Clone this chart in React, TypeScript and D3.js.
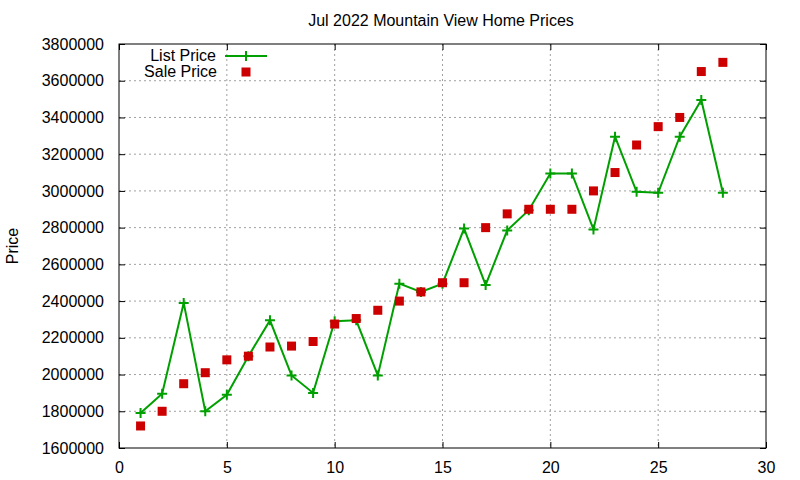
import { useEffect, useRef } from 'react'
import * as d3 from 'd3'

const days = [1, 2, 3, 4, 5, 6, 7, 8, 9, 10, 11, 12, 13, 14, 15, 16, 17, 18, 19, 20, 21, 22, 23, 24, 25, 26, 27, 28]
const listPrice = [
  1790000, 1895000, 2390000, 1800000, 1890000, 2100000, 2295000, 1995000, 1900000, 2290000,
  2295000, 1995000, 2495000, 2450000, 2495000, 2795000, 2488000, 2785000, 2895000, 3095000,
  3095000, 2790000, 3295000, 2995000, 2990000, 3295000, 3495000, 2990000,
]
const salePrice = [
  1720000, 1800000, 1950000, 2010000, 2080000, 2100000, 2150000, 2155000, 2180000, 2275000,
  2305000, 2350000, 2400000, 2450000, 2500000, 2500000, 2800000, 2875000, 2900000, 2900000,
  2900000, 3000000, 3100000, 3250000, 3350000, 3400000, 3650000, 3700000,
]
const xTicks = [0, 5, 10, 15, 20, 25, 30]
const yTicks = d3.range(1600000, 3800001, 200000)

const FONT = 'Liberation Sans, Arial, sans-serif'
const GREEN = '#00a000'
const RED = '#cc0000'

export default function App() {
  const svgRef = useRef<SVGSVGElement>(null)

  useEffect(() => {
    if (!svgRef.current) return
    const svg = d3.select(svgRef.current)
    svg.selectAll('*').remove()

    const margin = { top: 44, right: 34, bottom: 32, left: 119 }
    const width = 800 - margin.left - margin.right
    const height = 480 - margin.top - margin.bottom

    const x = d3.scaleLinear().domain([0, 30]).range([0, width])
    const y = d3.scaleLinear().domain([1600000, 3800000]).range([height, 0])

    svg.append('rect').attr('width', 800).attr('height', 480).attr('fill', '#fff')

    const g = svg.append('g').attr('transform', `translate(${margin.left},${margin.top})`)

    // grid
    g.append('g')
      .selectAll('line')
      .data(xTicks.slice(1, -1))
      .join('line')
      .attr('x1', d => x(d)).attr('x2', d => x(d))
      .attr('y1', 0).attr('y2', height)
      .attr('stroke', '#a0a0a0').attr('stroke-width', 1).attr('stroke-dasharray', '2 3')
    g.append('g')
      .selectAll('line')
      .data(yTicks.slice(1, -1))
      .join('line')
      .attr('x1', 0).attr('x2', width)
      .attr('y1', d => y(d)).attr('y2', d => y(d))
      .attr('stroke', '#a0a0a0').attr('stroke-width', 1).attr('stroke-dasharray', '2 3')

    // inward ticks on all sides
    const styleAxis = (sel: d3.Selection<SVGGElement, unknown, null, undefined>) => {
      sel.select('.domain').remove()
      sel.selectAll('.tick line').attr('stroke', '#000')
      sel.selectAll('.tick text')
        .attr('fill', '#000')
        .style('font-family', FONT)
        .style('font-size', '16px')
    }
    g.append('g')
      .attr('transform', `translate(0,${height})`)
      .call(d3.axisBottom(x).tickValues(xTicks).tickSize(-6).tickPadding(14).tickFormat(d3.format('d')))
      .call(styleAxis)
    g.append('g')
      .call(d3.axisTop(x).tickValues(xTicks).tickSize(-6).tickFormat(() => ''))
      .call(styleAxis)
    g.append('g')
      .call(d3.axisLeft(y).tickValues(yTicks).tickSize(-6).tickPadding(15).tickFormat(d3.format('d')))
      .call(styleAxis)
    g.append('g')
      .attr('transform', `translate(${width},0)`)
      .call(d3.axisRight(y).tickValues(yTicks).tickSize(-6).tickFormat(() => ''))
      .call(styleAxis)

    g.append('rect')
      .attr('width', width).attr('height', height)
      .attr('fill', 'none').attr('stroke', '#000').attr('stroke-width', 1)

    // list price line
    const line = d3.line<number>()
      .x((_, i) => x(days[i]))
      .y(d => y(d))
    g.append('path')
      .datum(listPrice)
      .attr('fill', 'none')
      .attr('stroke', GREEN)
      .attr('stroke-width', 2)
      .attr('d', line)

    g.append('g')
      .selectAll('path')
      .data(listPrice)
      .join('path')
      .attr('transform', (d, i) => `translate(${x(days[i])},${y(d)})`)
      .attr('d', 'M-5,0H5M0,-5V5')
      .attr('stroke', GREEN)
      .attr('stroke-width', 2)
      .attr('fill', 'none')

    // sale price squares
    g.append('g')
      .selectAll('rect')
      .data(salePrice)
      .join('rect')
      .attr('x', (_, i) => x(days[i]) - 4.5)
      .attr('y', d => y(d) - 4.5)
      .attr('width', 9).attr('height', 9)
      .attr('fill', RED)

    // legend
    const legend = svg.append('g').style('font-family', FONT).style('font-size', '16px')
    legend.append('text')
      .attr('x', 216).attr('y', 55).attr('dy', '0.35em')
      .attr('text-anchor', 'end').attr('fill', '#000')
      .text('List Price')
    legend.append('line')
      .attr('x1', 225).attr('x2', 267).attr('y1', 56).attr('y2', 56)
      .attr('stroke', GREEN).attr('stroke-width', 2)
    legend.append('path')
      .attr('transform', 'translate(246,56)')
      .attr('d', 'M-5,0H5M0,-5V5')
      .attr('stroke', GREEN).attr('stroke-width', 2)
    legend.append('text')
      .attr('x', 217).attr('y', 71).attr('dy', '0.35em')
      .attr('text-anchor', 'end').attr('fill', '#000')
      .text('Sale Price')
    legend.append('rect')
      .attr('x', 241.5).attr('y', 67.5).attr('width', 9).attr('height', 9)
      .attr('fill', RED)

    // title and axis label
    svg.append('text')
      .attr('x', 441).attr('y', 20).attr('dy', '0.35em')
      .attr('text-anchor', 'middle')
      .style('font-family', FONT).style('font-size', '16px')
      .text('Jul 2022 Mountain View Home Prices')
    svg.append('text')
      .attr('transform', 'translate(12,246) rotate(-90)')
      .attr('dy', '0.35em')
      .attr('text-anchor', 'middle')
      .style('font-family', FONT).style('font-size', '16px')
      .text('Price')
  }, [])

  return (
    <div style={{ position: 'fixed', left: 0, top: 0, width: 800, height: 480 }}>
      <svg ref={svgRef} width={800} height={480} style={{ display: 'block' }}></svg>
    </div>
  )
}
